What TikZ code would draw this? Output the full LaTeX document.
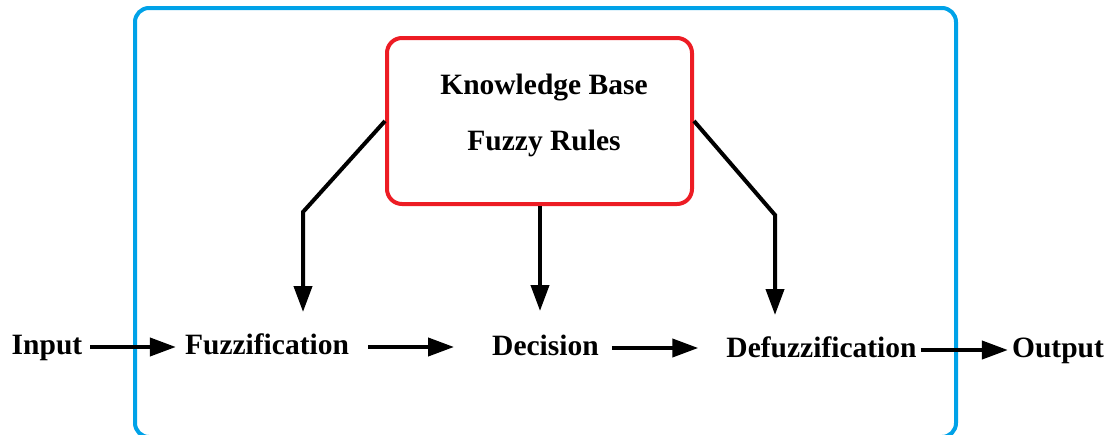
\documentclass[tikz,border=0pt]{standalone}
\usepackage{fontspec}
\setmainfont{Liberation Serif}
\usetikzlibrary{arrows.meta}
\definecolor{outerblue}{HTML}{00A2E8}
\definecolor{innerred}{HTML}{ED1C24}
\begin{document}
\begin{tikzpicture}[x=1pt,y=-1pt,
  lbl/.style={font=\fontsize{29.5}{35}\selectfont\bfseries, inner sep=0pt, text height=20pt, text depth=6pt, anchor=base},
  arr/.style={line width=4pt, -{Triangle[length=26pt,width=18pt]}},
  plain/.style={line width=4pt}]
\useasboundingbox (0,0) rectangle (1111,434);
% outer box
\draw[outerblue, line width=4pt, rounded corners=14pt] (135,8) rectangle (956,437);
% knowledge base box
\node[draw=innerred, line width=4pt, rounded corners=15pt, minimum width=305pt, minimum height=166pt, inner sep=0pt] (kb) at (539.5,121) {};
\node[lbl] (kb1) at (544,94) {Knowledge Base};
\node[lbl] (kb2) at (544,150) {Fuzzy Rules};
% main chain
\node[lbl] (in) at (47,354) {Input};
\node[lbl] (fuzz) at (267,354) {Fuzzification};
\node[lbl] (dec) at (545.5,355) {Decision};
\node[lbl] (defuzz) at (821.5,357) {Defuzzification};
\node[lbl] (out) at (1058,357) {Output};
\draw[arr, shorten <=8pt, shorten >=9pt] (in.east) -- (fuzz.west);
\draw[arr, shorten <=19pt, shorten >=38pt] (fuzz.east) -- (fuzz.east -| dec.west);
\draw[arr, shorten <=13pt, shorten >=28pt] (dec.east) -- (dec.east -| defuzz.west);
\draw[arr, shorten <=4pt, shorten >=4pt] (defuzz.east) -- (out.west);
% branches from knowledge base
\coordinate (lc) at (303,212);
\coordinate (lt) at (303,312);
\coordinate (rc) at (775,215);
\coordinate (rt) at (775,315);
\coordinate (mt) at (540,311);
\draw[arr, line join=miter] (kb.west) -- (lc) -- (lt);
\draw[arr] (kb.south -| mt) -- (mt);
\draw[arr, line join=miter] (kb.east) -- (rc) -- (rt);
\end{tikzpicture}
\end{document}
